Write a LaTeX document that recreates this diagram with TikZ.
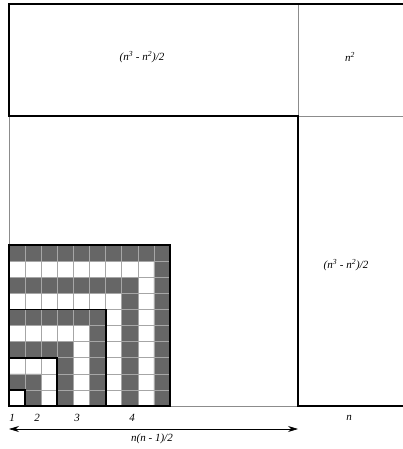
\documentclass[tikz,border=0pt]{standalone}
\usepackage{fontspec}
\setmainfont{Liberation Serif}
\usetikzlibrary{arrows.meta}
\begin{document}
\begin{tikzpicture}[x=1pt,y=-1pt,
  heavy/.style={line width=1.8pt,black,line cap=rect},
  light/.style={line width=0.8pt,black!45},
  cellgrid/.style={line width=0.6pt,black!35},
  shade/.style={fill=black!60},
  lab/.style={font=\fontsize{11}{12}\selectfont\itshape,inner sep=0pt},
  dim/.style={line width=0.7pt,black,{Stealth[length=10pt,width=6pt]}-{Stealth[length=10pt,width=6pt]}}]
\useasboundingbox (0,0) rectangle (403,449);
% corner coordinates
\coordinate (tl) at (9,4);
\coordinate (tr) at (403,4);
\coordinate (tm) at (298,4);
\coordinate (ml) at (9,116);
\coordinate (mm) at (298,116);
\coordinate (mr) at (403,116);
\coordinate (bm) at (298,406);
\coordinate (br) at (403,406);
\coordinate (gtl) at (9,245);
\coordinate (gbr) at (170,406);
\coordinate (al) at (9,429);
\coordinate (ar) at (298,429);
% thin lines
\draw[light] (tm) -- (mm);
\draw[light] (mm) -- (mr);
\draw[light] (ml) -- (gtl);
\draw[light] (gbr) -- (bm);
% grid of cells
\begin{scope}[shift={(9,406)},x=16.1pt,y=16.1pt]
  \foreach \k in {1,3,5,7,9}{
    \fill[shade] (0,\k) -- (\k,\k) -- (\k,0) -- (\k+1,0) -- (\k+1,\k+1) -- (0,\k+1) -- cycle;
  }
  \draw[cellgrid,step=1] (0,0) grid (10,10);
  \draw[heavy] (0,0) rectangle (1,1);
  \draw[heavy] (0,0) rectangle (3,3);
  \draw[heavy] (0,0) rectangle (6,6);
  \draw[heavy] (0,0) rectangle (10,10);
\end{scope}
% thick frame
\draw[heavy] (ml) -- (tl) -- (tr);
\draw[heavy] (ml) -- (mm) -- (bm) -- (br);
% labels
\node[lab] (top) at (142,57) {(n\textsuperscript{3} - n\textsuperscript{2})/2};
\node[lab] (sq) at (350,57) {n\textsuperscript{2}};
\node[lab] (side) at (346,265) {(n\textsuperscript{3} - n\textsuperscript{2})/2};
\node[lab] (l1) at (12,418) {1};
\node[lab] (l2) at (37,418) {2};
\node[lab] (l3) at (77,418) {3};
\node[lab] (l4) at (132,418) {4};
\node[lab] (ln) at (349,418) {n};
\node[lab] (tri) at (152,439) {n(n - 1)/2};
\draw[dim] (al) -- (ar);
\end{tikzpicture}
\end{document}
